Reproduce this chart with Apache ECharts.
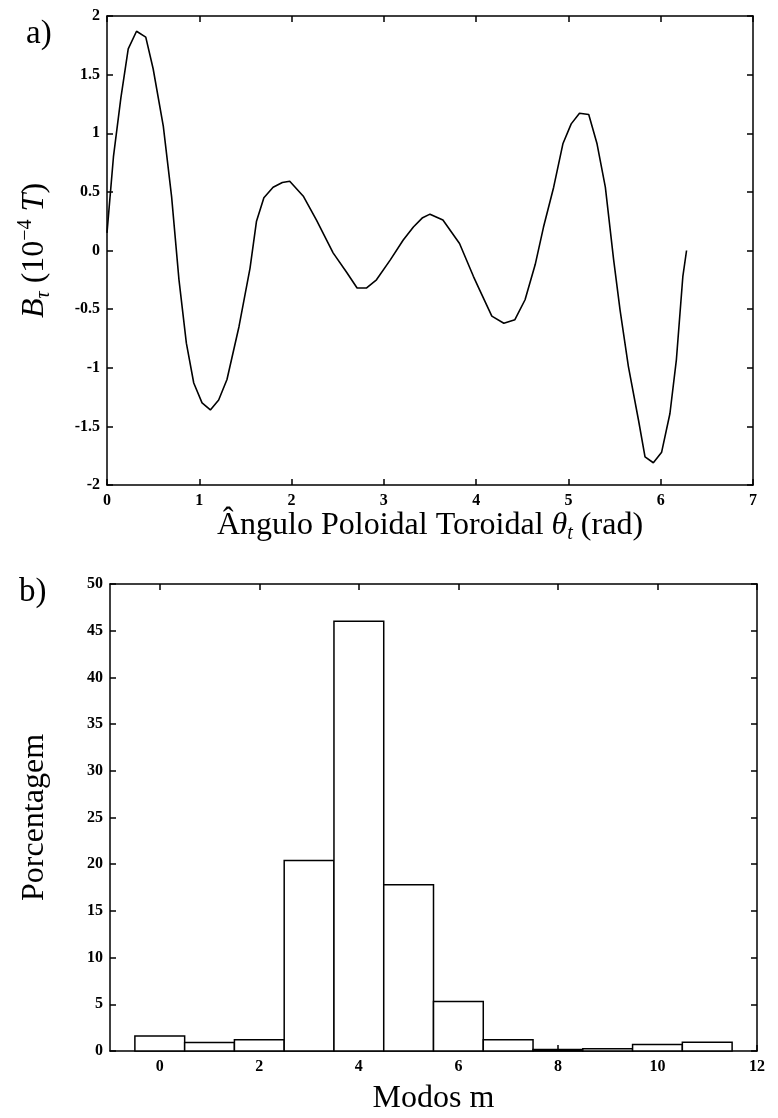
<!DOCTYPE html>
<html>
<head>
<meta charset="utf-8">
<script src="https://cdn.jsdelivr.net/npm/echarts@6/dist/echarts.min.js"></script>
<style>
  html, body { margin: 0; padding: 0; background: #fff; }
  #chart { width: 778px; height: 1118px; }
</style>
</head>
<body>
<div id="chart"></div>
<script>
// ---- Data (a): Br versus toroidal poloidal angle ----
const thetaVals = [0, 0.07, 0.15, 0.23, 0.32, 0.42, 0.5, 0.61, 0.7, 0.78, 0.86, 0.94, 1.03, 1.12, 1.21, 1.3, 1.43, 1.55, 1.62, 1.7, 1.8, 1.9, 1.98, 2.13, 2.27, 2.45, 2.6, 2.71, 2.81, 2.92, 3.07, 3.21, 3.32, 3.42, 3.5, 3.64, 3.82, 3.97, 4.04, 4.17, 4.3, 4.42, 4.53, 4.64, 4.73, 4.84, 4.94, 5.03, 5.12, 5.22, 5.31, 5.4, 5.49, 5.56, 5.65, 5.76, 5.83, 5.92, 6.01, 6.1, 6.17, 6.24, 6.28];
const brVals = [0.15, 0.8, 1.3, 1.72, 1.87, 1.82, 1.55, 1.06, 0.46, -0.25, -0.79, -1.13, -1.3, -1.36, -1.275, -1.1, -0.65, -0.15, 0.25, 0.45, 0.54, 0.58, 0.59, 0.46, 0.26, -0.02, -0.19, -0.32, -0.32, -0.25, -0.08, 0.09, 0.2, 0.28, 0.31, 0.26, 0.06, -0.22, -0.34, -0.56, -0.62, -0.59, -0.42, -0.12, 0.2, 0.54, 0.91, 1.08, 1.17, 1.16, 0.91, 0.54, -0.08, -0.51, -0.99, -1.45, -1.76, -1.81, -1.72, -1.39, -0.93, -0.22, 0.0];

// ---- Data (b): mode spectrum ----
const modes = [0, 1, 2, 3, 4, 5, 6, 7, 8, 9, 10, 11];
const percents = [1.6, 0.9, 1.2, 20.4, 46.0, 17.8, 5.3, 1.2, 0.15, 0.25, 0.7, 0.95];
const modeTicks = [0, 2, 4, 6, 8, 10, 12];

const lineData = thetaVals.map((t, i) => [t, brVals[i]]);
const barData = modes.map((m, i) => [m, percents[i]]);

const FONT = '"Liberation Serif", "DejaVu Serif", serif';
const TS = 32; // title font size
const tickLabel = { color: '#000', fontFamily: FONT, fontWeight: 'bold', fontSize: 16 };
const axisLine = { show: true, onZero: false, lineStyle: { color: '#000', width: 1.5 } };
const tickIn = { show: true, inside: true, length: 6, lineStyle: { color: '#000', width: 1.5 } };

const chart = echarts.init(document.getElementById('chart'), null, { renderer: 'canvas' });

const option = {
  backgroundColor: '#fff',
  animation: false,
  grid: [
    { left: 107, right: 25, top: 16, height: 469 },
    { left: 110, right: 21, top: 584, height: 468 }
  ],
  graphic: [
    { type: 'text', left: 26, top: 18, style: { text: 'a)', font: '33px ' + FONT, fill: '#000' } },
    { type: 'text', left: 19, top: 576, style: { text: 'b)', font: '33px ' + FONT, fill: '#000' } }
  ],
  xAxis: [
    {
      gridIndex: 0, type: 'value', min: 0, max: 7, interval: 1, position: 'bottom',
      axisLine, axisTick: tickIn, splitLine: { show: false },
      axisLabel: Object.assign({ margin: 8 }, tickLabel),
      name: '{n|Ângulo Poloidal Toroidal }{it|θ}{sub|t}{n| (rad)}',
      nameLocation: 'middle', nameGap: 22,
      nameTextStyle: {
        rich: {
          n: { fontFamily: FONT, fontSize: TS, color: '#000', lineHeight: 36 },
          it: { fontFamily: FONT, fontSize: TS, fontStyle: 'italic', color: '#000', lineHeight: 36 },
          sub: { fontFamily: FONT, fontSize: 20, fontStyle: 'italic', color: '#000', lineHeight: 20, verticalAlign: 'bottom' }
        }
      }
    },
    {
      gridIndex: 0, type: 'value', min: 0, max: 7, interval: 1, position: 'top',
      axisLine, axisTick: tickIn, axisLabel: { show: false }, splitLine: { show: false }
    },
    {
      gridIndex: 1, type: 'value', min: -1, max: 12, position: 'bottom',
      axisLine, splitLine: { show: false },
      axisTick: Object.assign({ customValues: modeTicks }, tickIn),
      axisLabel: Object.assign({ margin: 8, customValues: modeTicks }, tickLabel),
      name: 'Modos m', nameLocation: 'middle', nameGap: 30,
      nameTextStyle: { fontFamily: FONT, fontSize: TS, color: '#000', lineHeight: 36 }
    },
    {
      gridIndex: 1, type: 'value', min: -1, max: 12, position: 'top',
      axisLine, splitLine: { show: false },
      axisTick: Object.assign({ customValues: modeTicks }, tickIn),
      axisLabel: { show: false }
    }
  ],
  yAxis: [
    {
      gridIndex: 0, type: 'value', min: -2, max: 2, interval: 0.5, position: 'left',
      axisLine, axisTick: tickIn, splitLine: { show: false },
      axisLabel: Object.assign({ margin: 7 }, tickLabel),
      name: '{it|B}{sub|τ}{n| (10}{sup|−4}{n| }{it|T}{n|)}',
      nameLocation: 'middle', nameGap: 53, nameRotate: 90,
      nameTextStyle: {
        rich: {
          n: { fontFamily: FONT, fontSize: TS, color: '#000', lineHeight: 38 },
          it: { fontFamily: FONT, fontSize: TS, fontStyle: 'italic', color: '#000', lineHeight: 38 },
          sub: { fontFamily: FONT, fontSize: 20, fontStyle: 'italic', color: '#000', lineHeight: 20, verticalAlign: 'bottom' },
          sup: { fontFamily: FONT, fontSize: 20, color: '#000', lineHeight: 20, verticalAlign: 'top' }
        }
      }
    },
    {
      gridIndex: 0, type: 'value', min: -2, max: 2, interval: 0.5, position: 'right',
      axisLine, axisTick: tickIn, axisLabel: { show: false }, splitLine: { show: false }
    },
    {
      gridIndex: 1, type: 'value', min: 0, max: 50, interval: 5, position: 'left',
      axisLine, axisTick: tickIn, splitLine: { show: false },
      axisLabel: Object.assign({ margin: 7 }, tickLabel),
      name: 'Porcentagem', nameLocation: 'middle', nameGap: 56, nameRotate: 90,
      nameTextStyle: { fontFamily: FONT, fontSize: TS, color: '#000', lineHeight: 38 }
    },
    {
      gridIndex: 1, type: 'value', min: 0, max: 50, interval: 5, position: 'right',
      axisLine, axisTick: tickIn, axisLabel: { show: false }, splitLine: { show: false }
    }
  ],
  series: [
    {
      type: 'line', xAxisIndex: 0, yAxisIndex: 0, data: lineData,
      symbol: 'none', smooth: false,
      lineStyle: { color: '#000', width: 1.6 }
    },
    {
      type: 'custom', xAxisIndex: 2, yAxisIndex: 2, data: barData,
      renderItem: function (params, api) {
        const m = api.value(0), v = api.value(1);
        const pTop = api.coord([m - 0.5, v]);
        const pBot = api.coord([m + 0.5, 0]);
        return {
          type: 'rect',
          shape: { x: pTop[0], y: pTop[1], width: pBot[0] - pTop[0], height: pBot[1] - pTop[1] },
          style: { fill: '#fff', stroke: '#000', lineWidth: 1.5 }
        };
      }
    }
  ]
};
chart.setOption(option);
</script>
</body>
</html>
